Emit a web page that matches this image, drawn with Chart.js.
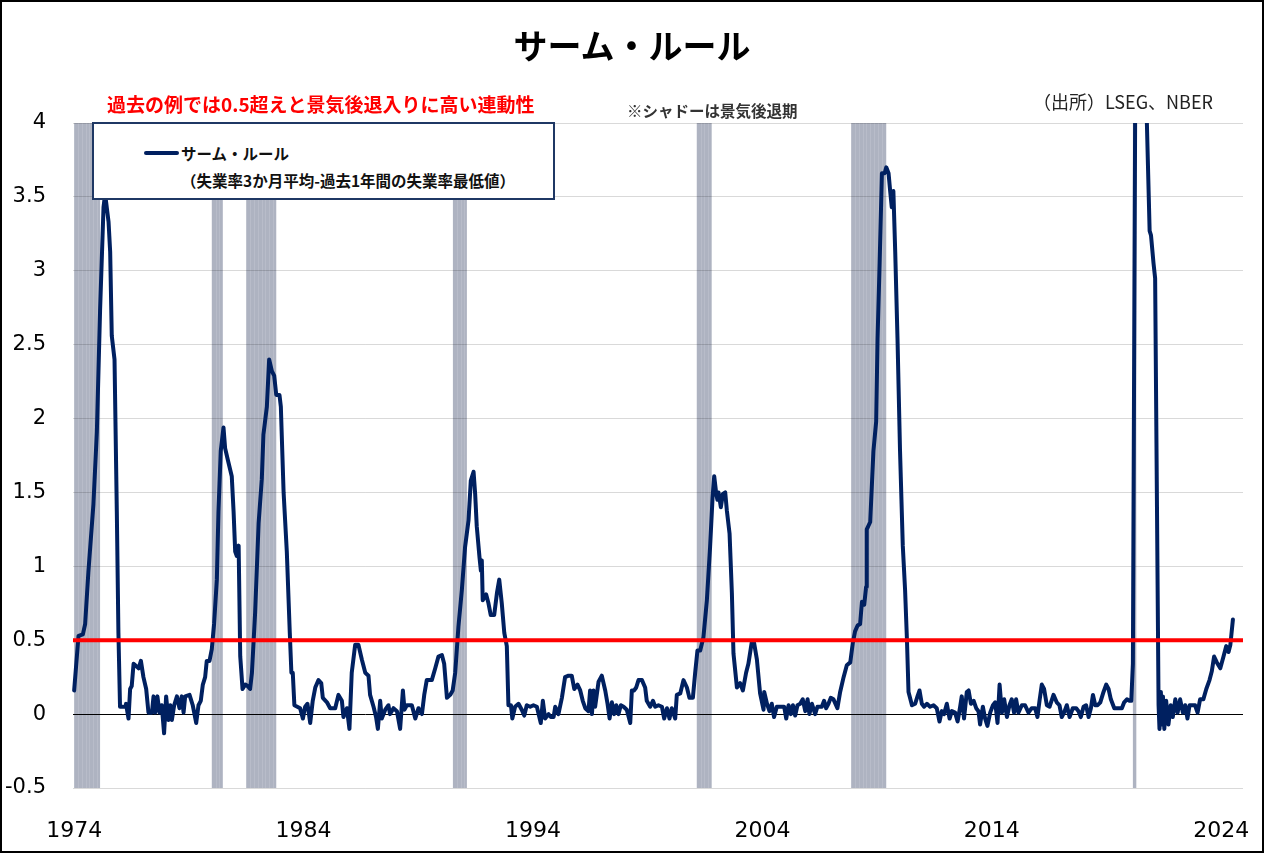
<!DOCTYPE html>
<html>
<head>
<meta charset="utf-8">
<script src="https://cdn.jsdelivr.net/npm/chart.js@4/dist/chart.umd.min.js"></script>
<style>
  body { margin: 0; background: #fff; }
  #wrap { position: relative; width: 1264px; height: 854px; font-family: "Noto Sans CJK JP", sans-serif; }
  #frame { position: absolute; left: 0; top: 0; width: 1264px; height: 853px; box-sizing: border-box; border: 2px solid #000; pointer-events: none; }
  .txt { position: absolute; white-space: nowrap; }
  #title { left: 0; width: 1264px; top: 24px; line-height: 42px; text-align: center; font-size: 34px; font-weight: bold; color: #000; }
  #note1 { left: 107px; top: 92px; line-height: 24px; font-size: 19px; font-weight: bold; color: #ff0000; }
  #note2 { left: 627px; top: 100px; line-height: 20px; font-size: 15.5px; font-weight: bold; color: #333; }
  #source { left: 1033px; top: 90px; line-height: 22px; font-size: 18px; color: #222; }
  #legend { position: absolute; left: 92px; top: 122px; width: 463px; height: 78px; box-sizing: border-box; background: #fff; border: 2px solid #1f3864; }
  #legend .swatch { position: absolute; left: 50px; top: 27px; width: 35px; height: 4px; background: #002060; border-radius: 2px; }
  #legend .l1 { position: absolute; left: 87px; top: 18px; line-height: 22px; font-size: 15.5px; font-weight: bold; color: #111; }
  #legend .l2 { position: absolute; left: 87px; top: 45px; line-height: 22px; font-size: 15.5px; font-weight: bold; color: #111; }
</style>
</head>
<body>
<div id="wrap">
  <canvas id="samChart" width="1264" height="854"></canvas>
  <div class="txt" id="title">サーム・ルール</div>
  <div class="txt" id="note1">過去の例では0.5超えと景気後退入りに高い連動性</div>
  <div class="txt" id="note2">※シャドーは景気後退期</div>
  <div class="txt" id="source">（出所）LSEG、NBER</div>
  <div id="legend">
    <div class="swatch"></div>
    <div class="txt l1">サーム・ルール</div>
    <div class="txt l2">（失業率3か月平均-過去1年間の失業率最低値）</div>
  </div>
  <div id="frame"></div>
</div>
<script>
const obsYear = [
  1974.00,1974.19,1974.38,1974.48,1974.62,1974.84,1974.99,1975.13,1975.28,1975.35,1975.50,1975.57,1975.64,1975.76,1975.86,1975.93,
  1976.00,1976.22,1976.26,1976.37,1976.44,1976.51,1976.59,1976.74,1976.81,1976.91,1977.02,1977.14,1977.24,1977.39,1977.46,1977.53,
  1977.63,1977.72,1977.82,1977.92,1978.01,1978.11,1978.19,1978.26,1978.36,1978.48,1978.59,1978.69,1978.77,1978.84,1979.03,1979.17,
  1979.32,1979.42,1979.52,1979.61,1979.71,1979.78,1979.90,1980.00,1980.10,1980.22,1980.29,1980.39,1980.51,1980.58,1980.70,1980.87,
  1980.95,1981.02,1981.09,1981.17,1981.24,1981.34,1981.46,1981.56,1981.67,1981.75,1981.89,1982.04,1982.18,1982.25,1982.40,1982.50,
  1982.62,1982.72,1982.81,1982.95,1983.01,1983.13,1983.27,1983.40,1983.47,1983.53,1983.60,1983.85,1983.97,1984.07,1984.17,1984.29,
  1984.40,1984.51,1984.65,1984.77,1984.84,1985.02,1985.16,1985.38,1985.52,1985.67,1985.74,1985.89,1986.00,1986.10,1986.25,1986.39,
  1986.54,1986.69,1986.83,1986.90,1987.05,1987.16,1987.24,1987.34,1987.41,1987.56,1987.70,1987.77,1987.92,1988.07,1988.21,1988.33,
  1988.40,1988.50,1988.72,1988.87,1989.01,1989.16,1989.26,1989.37,1989.59,1989.74,1989.88,1990.03,1990.13,1990.25,1990.39,1990.50,
  1990.61,1990.75,1990.90,1991.04,1991.19,1991.29,1991.41,1991.48,1991.55,1991.67,1991.73,1991.77,1991.81,1991.96,1992.06,1992.16,
  1992.31,1992.43,1992.53,1992.64,1992.75,1992.86,1992.93,1993.04,1993.10,1993.22,1993.37,1993.51,1993.62,1993.73,1993.88,1994.02,
  1994.17,1994.34,1994.43,1994.53,1994.68,1994.78,1994.90,1994.97,1995.11,1995.26,1995.40,1995.55,1995.69,1995.80,1995.94,1996.06,
  1996.17,1996.28,1996.42,1996.49,1996.57,1996.64,1996.71,1996.86,1997.00,1997.15,1997.25,1997.34,1997.44,1997.54,1997.63,1997.73,
  1997.83,1997.95,1998.09,1998.24,1998.31,1998.41,1998.50,1998.60,1998.75,1998.89,1998.96,1999.11,1999.23,1999.33,1999.47,1999.62,
  1999.72,1999.84,1999.95,2000.05,2000.20,2000.27,2000.42,2000.56,2000.71,2000.82,2000.97,2001.07,2001.17,2001.29,2001.43,2001.58,
  2001.72,2001.83,2001.90,2001.99,2002.04,2002.09,2002.19,2002.28,2002.38,2002.45,2002.57,2002.67,2002.74,2002.89,2003.03,2003.15,
  2003.29,2003.39,2003.54,2003.64,2003.76,2003.90,2004.05,2004.08,2004.20,2004.31,2004.41,2004.51,2004.63,2004.80,2004.95,2005.04,
  2005.14,2005.24,2005.33,2005.43,2005.53,2005.65,2005.76,2005.87,2005.97,2006.05,2006.16,2006.30,2006.40,2006.59,2006.69,2006.78,
  2006.88,2006.98,2007.10,2007.27,2007.39,2007.54,2007.68,2007.83,2007.94,2008.04,2008.15,2008.26,2008.34,2008.44,2008.52,2008.55,
  2008.70,2008.84,2008.96,2009.02,2009.11,2009.21,2009.33,2009.40,2009.50,2009.57,2009.64,2009.71,2009.79,2009.89,2010.00,2010.12,
  2010.22,2010.30,2010.37,2010.52,2010.66,2010.76,2010.85,2010.95,2011.05,2011.17,2011.31,2011.46,2011.60,2011.72,2011.82,2011.92,
  2012.04,2012.16,2012.26,2012.40,2012.51,2012.62,2012.69,2012.79,2012.91,2012.99,2013.09,2013.21,2013.32,2013.42,2013.49,2013.61,
  2013.71,2013.81,2013.93,2014.05,2014.15,2014.25,2014.34,2014.44,2014.54,2014.66,2014.77,2014.87,2014.97,2015.06,2015.16,2015.31,
  2015.45,2015.60,2015.74,2015.89,2015.99,2016.08,2016.18,2016.28,2016.40,2016.52,2016.69,2016.83,2016.95,2017.05,2017.15,2017.27,
  2017.39,2017.53,2017.68,2017.78,2017.88,2018.00,2018.11,2018.22,2018.32,2018.41,2018.51,2018.61,2018.73,2018.87,2018.99,2019.09,
  2019.19,2019.34,2019.53,2019.67,2019.77,2019.89,2020.00,2020.08,2020.15,2020.25,2020.33,2020.42,2020.50,2020.58,2020.67,2020.76,
  2020.88,2020.94,2021.05,2021.12,2021.27,2021.31,2021.37,2021.42,2021.46,2021.52,2021.60,2021.70,2021.80,2021.89,2022.00,2022.10,
  2022.21,2022.33,2022.43,2022.53,2022.62,2022.72,2022.86,2022.97,2023.08,2023.22,2023.35,2023.49,2023.59,2023.69,2023.81,2023.96,
  2024.10,2024.22,2024.32,2024.40,2024.51
];
const sahmRule = [
  0.16,0.53,0.54,0.61,0.96,1.42,1.91,2.73,3.43,3.52,3.33,3.13,2.56,2.40,1.37,0.55,
  0.05,0.05,0.07,-0.03,0.17,0.19,0.34,0.32,0.31,0.36,0.25,0.17,0.01,0.01,0.12,0.01,
  0.12,0.01,0.06,-0.13,0.12,-0.04,0.06,-0.04,0.06,0.12,0.04,0.12,0.01,0.12,0.13,0.06,
  -0.06,0.06,0.09,0.20,0.25,0.36,0.36,0.44,0.61,0.91,1.37,1.78,1.94,1.80,1.72,1.61,
  1.37,1.10,1.07,1.14,0.39,0.17,0.20,0.19,0.17,0.28,0.69,1.29,1.59,1.89,2.08,2.40,
  2.32,2.29,2.16,2.16,2.08,1.50,1.10,0.55,0.28,0.28,0.06,0.04,-0.03,0.05,0.07,-0.06,
  0.09,0.18,0.23,0.21,0.11,0.08,0.04,0.04,0.13,0.09,-0.02,0.04,-0.10,0.28,0.47,0.47,
  0.37,0.28,0.26,0.13,0.05,-0.02,-0.10,0.09,-0.03,0.03,0.06,0.00,0.04,0.02,-0.10,0.16,
  0.03,0.06,0.06,-0.03,0.04,0.00,0.13,0.23,0.23,0.31,0.39,0.40,0.34,0.11,0.13,0.16,
  0.28,0.59,0.84,1.13,1.31,1.58,1.64,1.49,1.27,1.06,0.97,1.04,0.77,0.81,0.75,0.67,
  0.67,0.82,0.91,0.75,0.55,0.46,0.06,0.06,-0.03,0.05,0.07,0.03,-0.01,0.06,0.05,0.06,
  0.05,-0.06,0.09,-0.03,0.00,-0.02,-0.02,0.05,0.00,0.11,0.25,0.26,0.26,0.17,0.20,0.16,
  0.09,0.04,0.02,0.16,0.00,0.16,0.05,0.22,0.26,0.16,0.07,-0.03,0.08,0.00,0.06,0.00,
  0.06,0.05,0.03,-0.06,0.16,0.16,0.18,0.23,0.23,0.18,0.09,0.05,0.09,0.05,0.06,0.05,
  -0.03,0.04,-0.03,0.04,-0.03,0.13,0.14,0.23,0.18,0.11,0.11,0.28,0.43,0.43,0.52,0.77,
  1.13,1.47,1.61,1.49,1.45,1.50,1.40,1.49,1.50,1.38,1.22,0.82,0.41,0.18,0.21,0.16,
  0.28,0.34,0.49,0.48,0.37,0.14,0.03,0.15,0.07,0.02,0.07,-0.02,0.05,0.05,0.05,-0.03,
  0.06,0.00,0.06,-0.01,0.06,0.07,0.10,0.02,0.10,0.00,0.07,0.00,0.05,0.05,0.09,0.04,
  0.07,0.11,0.10,0.04,0.15,0.25,0.33,0.35,0.48,0.56,0.60,0.61,0.76,0.74,0.86,1.25,
  1.30,1.78,1.98,2.54,3.05,3.66,3.66,3.70,3.66,3.54,3.43,3.54,3.13,2.54,1.78,1.14,
  0.84,0.51,0.15,0.06,0.07,0.12,0.16,0.07,0.05,0.07,0.05,0.06,0.04,-0.05,0.02,0.00,
  0.07,-0.03,0.02,0.01,-0.05,0.05,0.12,-0.03,0.15,0.16,0.07,0.09,0.04,0.02,-0.07,0.05,
  -0.03,-0.08,0.01,0.06,0.08,-0.06,0.20,0.01,0.10,-0.02,0.06,0.10,0.01,0.10,0.01,0.06,
  0.06,0.01,0.04,0.04,-0.02,0.09,0.20,0.17,0.06,0.05,0.13,0.08,0.06,-0.02,0.01,0.06,
  -0.02,0.04,0.04,0.02,-0.02,0.05,0.06,-0.02,0.04,0.13,0.06,0.06,0.08,0.15,0.20,0.17,
  0.10,0.04,0.04,0.04,0.08,0.10,0.09,0.09,0.34,4.10,7.40,9.50,8.00,6.40,5.20,4.00,
  3.27,3.24,3.05,2.95,0.06,-0.10,0.15,-0.07,0.12,-0.10,0.09,-0.07,0.06,-0.02,0.10,0.01,
  0.10,0.01,0.06,-0.03,0.06,0.06,0.06,0.01,0.10,0.10,0.17,0.23,0.29,0.39,0.35,0.31,
  0.39,0.46,0.42,0.47,0.64
];

// NBER recessions (shaded), decimal years
const recessionStart = [1974.00, 1980.00, 1981.50, 1990.51, 2001.14, 2007.87, 2020.15];
const recessionEnd   = [1975.13, 1980.48, 1982.81, 1991.12, 2001.79, 2009.40, 2020.30];

const threshold = 0.5;
const xTickYears = [1974, 1984, 1994, 2004, 2014, 2024];
const yTickValues = [-0.5, 0, 0.5, 1, 1.5, 2, 2.5, 3, 3.5, 4];
const xMin = 1973.95, xMax = 2024.95;

const recessionShade = {
  id: 'recessionShade',
  beforeDraw(chart) {
    const ctx = chart.ctx, area = chart.chartArea, xs = chart.scales.x;
    ctx.save();
    for (let i = 0; i < recessionStart.length; i++) {
      const x0 = Math.max(xs.getPixelForValue(recessionStart[i]), area.left);
      const x1 = xs.getPixelForValue(recessionEnd[i]);
      ctx.fillStyle = '#aeb3c1';
      ctx.fillRect(x0, area.top, x1 - x0, area.bottom - area.top);
      // faint month stripes
      ctx.strokeStyle = 'rgba(255,255,255,0.13)';
      ctx.lineWidth = 1;
      for (let m = recessionStart[i] + 2 / 12; m < recessionEnd[i]; m += 2 / 12) {
        const px = Math.round(xs.getPixelForValue(m)) + 0.5;
        if (px <= x0) continue;
        ctx.beginPath();
        ctx.moveTo(px, area.top);
        ctx.lineTo(px, area.bottom);
        ctx.stroke();
      }
    }
    ctx.restore();
  }
};

const ctx = document.getElementById('samChart').getContext('2d');
new Chart(ctx, {
  type: 'line',
  data: {
    datasets: [{
      label: 'サーム・ルール',
      data: obsYear.map((x, i) => ({ x: x, y: sahmRule[i] })),
      borderColor: '#002060',
      borderWidth: 4,
      pointRadius: 0,
      tension: 0,
      borderJoinStyle: 'round',
      borderCapStyle: 'round',
      clip: { left: 2, top: 0, right: 2, bottom: 2 },
      order: 2
    }, {
      label: '0.5',
      data: [{ x: xMin, y: threshold }, { x: xMax, y: threshold }],
      borderColor: '#ff0000',
      borderWidth: 4,
      pointRadius: 0,
      order: 1
    }]
  },
  options: {
    responsive: false,
    animation: false,
    layout: { padding: { left: 0, top: 123, right: 21, bottom: 0 } },
    plugins: {
      legend: { display: false },
      tooltip: { enabled: false }
    },
    scales: {
      x: {
        type: 'linear',
        min: xMin,
        max: xMax,
        afterBuildTicks: function (scale) {
          scale.ticks = xTickYears.map(v => ({ value: v }));
        },
        afterFit: function (scale) {
          scale.height = 66;
          scale.paddingLeft = 0;
          scale.paddingRight = 0;
        },
        grid: { display: false },
        border: { display: false },
        ticks: {
          padding: 22,
          maxRotation: 0,
          autoSkip: false,
          color: '#000',
          font: { family: 'DejaVu Sans', size: 22 },
          callback: v => String(v)
        }
      },
      y: {
        min: -0.5,
        max: 4,
        afterBuildTicks: function (scale) {
          scale.ticks = yTickValues.map(v => ({ value: v }));
        },
        afterFit: function (scale) {
          scale.width = 73;
          scale.paddingTop = 0;
          scale.paddingBottom = 0;
        },
        border: { display: false },
        grid: {
          drawTicks: false,
          color: c => c.tick.value === 0 ? '#000' : 'rgba(0,0,0,0.15)',
          lineWidth: 1
        },
        ticks: {
          padding: 27,
          color: '#000',
          font: { family: 'DejaVu Sans', size: 21 },
          callback: v => String(v)
        }
      }
    }
  },
  plugins: [recessionShade]
});
</script>
</body>
</html>
